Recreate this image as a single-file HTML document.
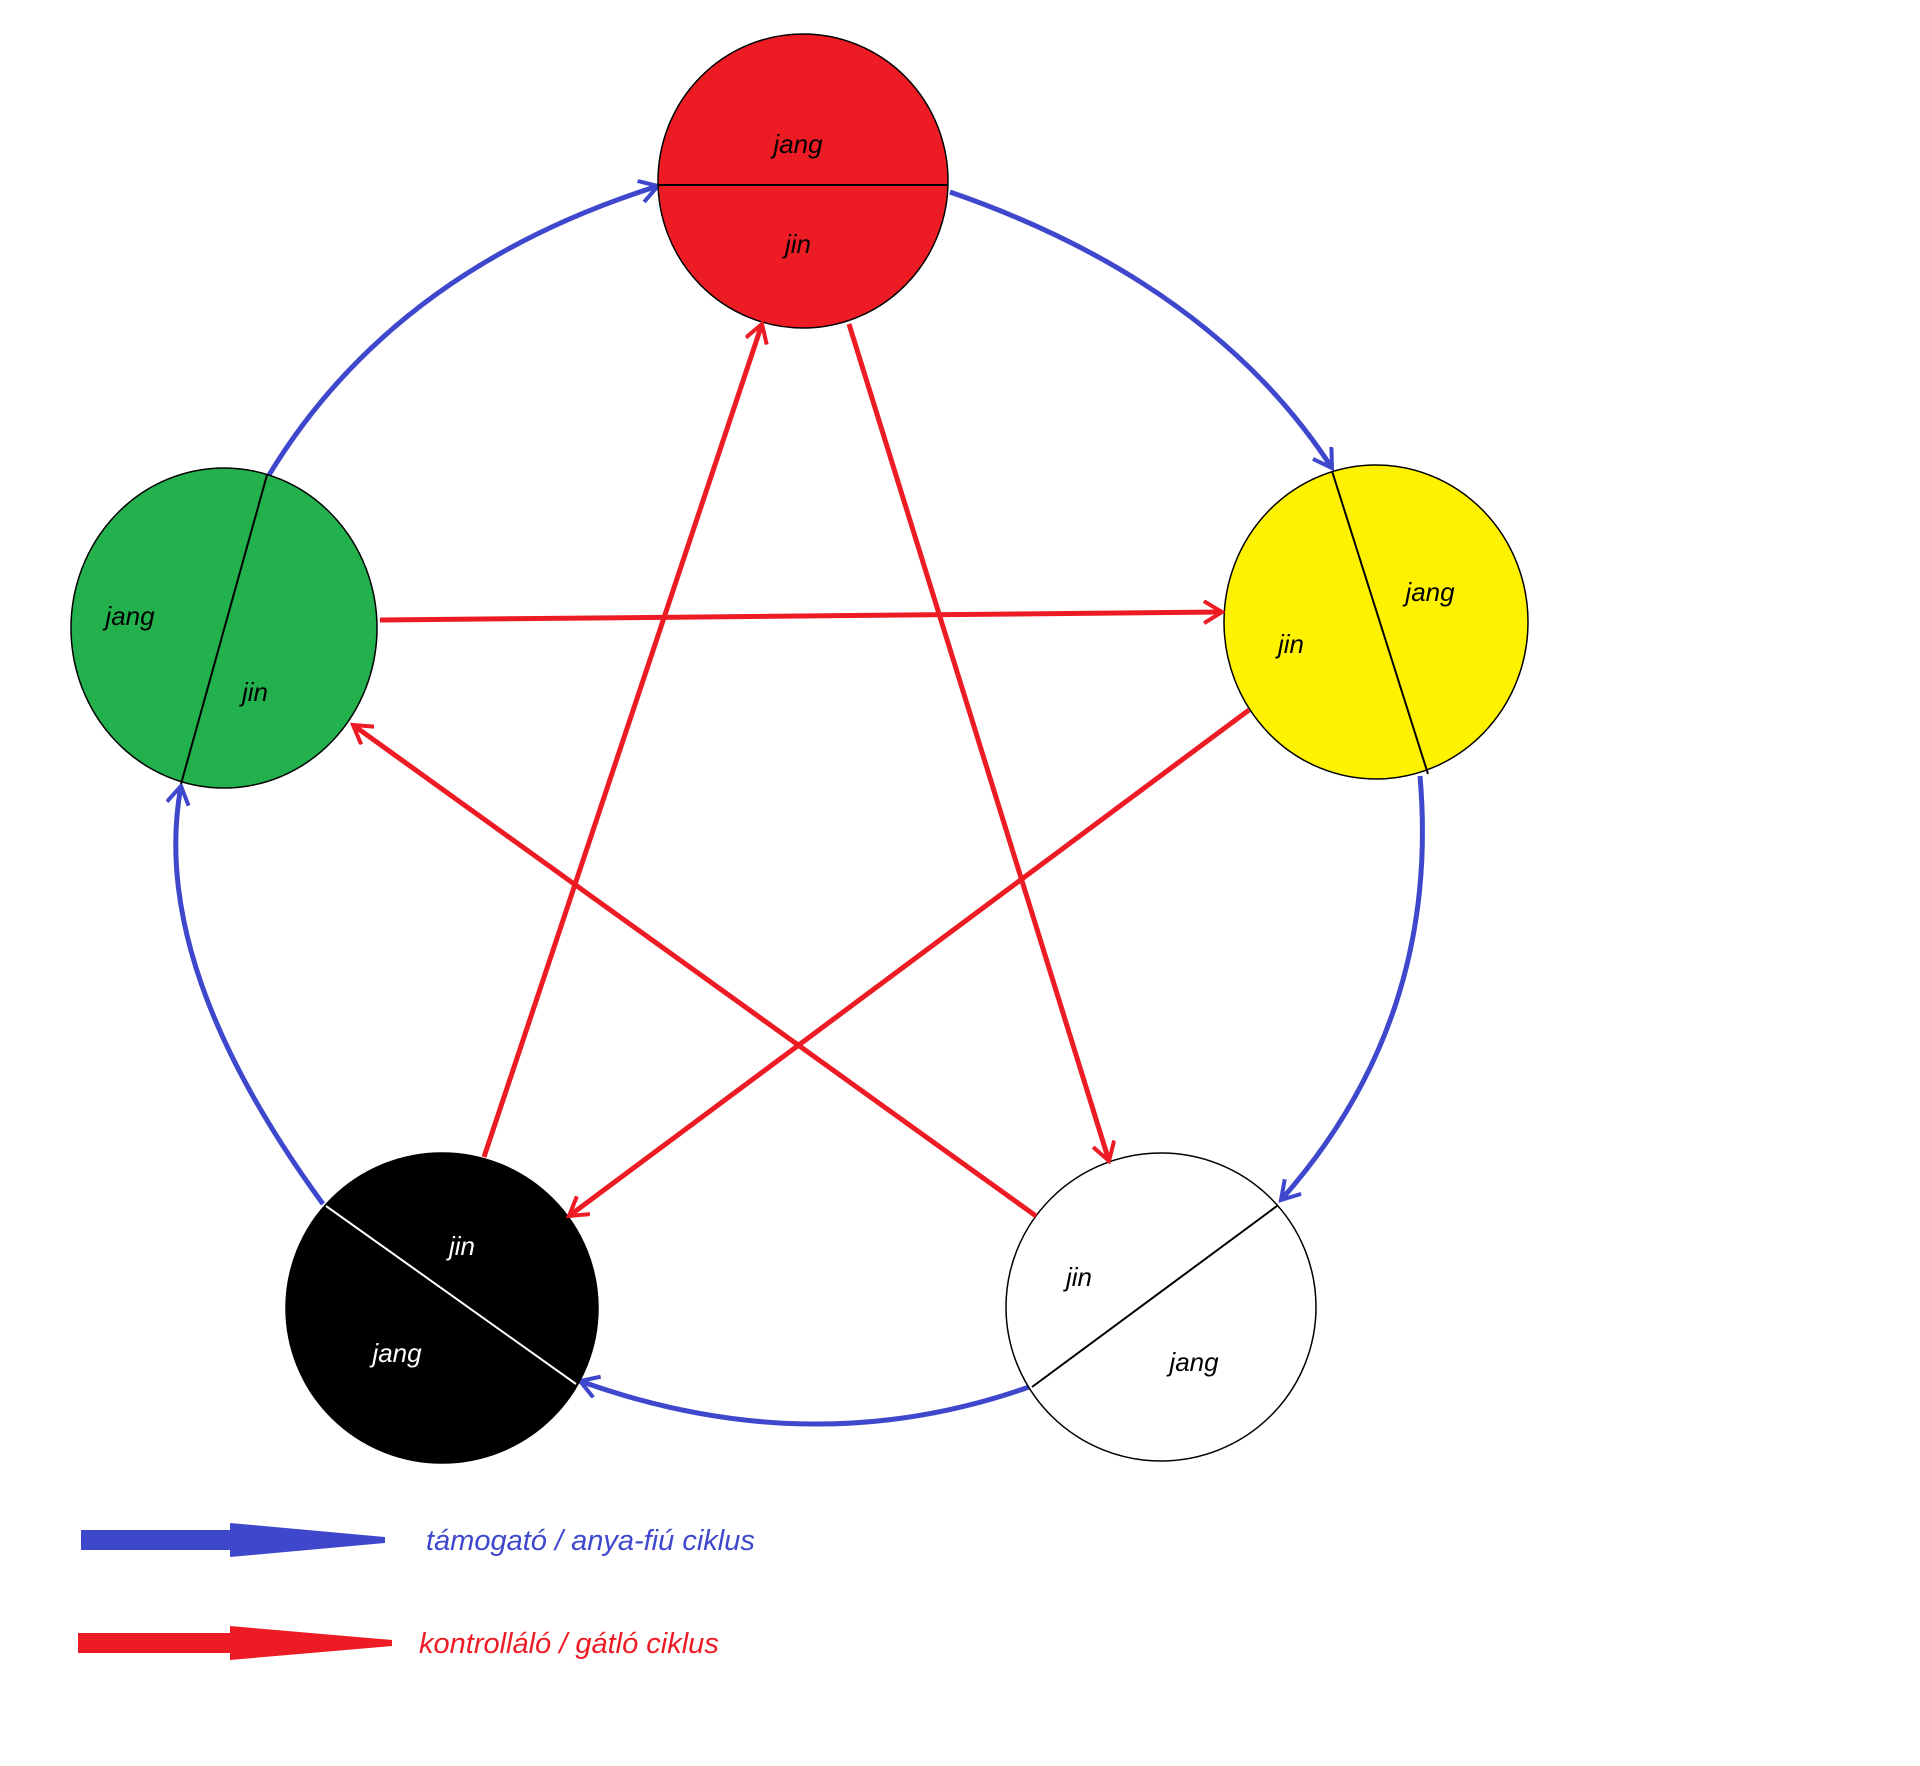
<!DOCTYPE html>
<html><head><meta charset="utf-8"><style>
html,body{margin:0;padding:0;background:#fff;}
svg{display:block}
text{font-family:"Liberation Sans",sans-serif;font-style:italic;}
</style></head><body>
<svg width="1920" height="1766" viewBox="0 0 1920 1766" xmlns="http://www.w3.org/2000/svg">
<defs>
<marker id="ab" markerWidth="30" markerHeight="30" refX="20" refY="12" orient="auto" markerUnits="userSpaceOnUse">
<polyline points="2,1 20,12 2,23" fill="none" stroke="#3f48cc" stroke-width="4"/>
</marker>
<marker id="ar" markerWidth="30" markerHeight="30" refX="20" refY="12" orient="auto" markerUnits="userSpaceOnUse">
<polyline points="2,1 20,12 2,23" fill="none" stroke="#ed1c24" stroke-width="4"/>
</marker>
</defs>

<g fill="none" stroke="#3f48cc" stroke-width="5">
<path d="M950,192 Q1211,282 1332,468" marker-end="url(#ab)"/>
<path d="M1420,776 Q1441,1020 1281,1200" marker-end="url(#ab)"/>
<path d="M1029,1387 Q811,1464 580,1381" marker-end="url(#ab)"/>
<path d="M323,1204 Q148,965 181,786" marker-end="url(#ab)"/>
<path d="M269,475 Q394,269 658,186" marker-end="url(#ab)"/>
</g>

<ellipse cx="803" cy="181" rx="145" ry="147" fill="#ed1c24" stroke="#000" stroke-width="1.5"/>
<line x1="658" y1="185" x2="948" y2="185" stroke="#000" stroke-width="2"/>
<ellipse cx="1376" cy="622" rx="152" ry="157" fill="#fff200" stroke="#000" stroke-width="1.5"/>
<line x1="1332" y1="471" x2="1428" y2="774" stroke="#000" stroke-width="2"/>
<ellipse cx="224" cy="628" rx="153" ry="160" fill="#22b14c" stroke="#000" stroke-width="1.5"/>
<line x1="267" y1="475" x2="181" y2="784" stroke="#000" stroke-width="2"/>
<ellipse cx="442" cy="1308" rx="156" ry="155" fill="#000" stroke="#000" stroke-width="1.5"/>
<line x1="326" y1="1206" x2="576" y2="1384" stroke="#fff" stroke-width="2"/>
<ellipse cx="1161" cy="1307" rx="155" ry="154" fill="#fff" stroke="#000" stroke-width="1.5"/>
<line x1="1032" y1="1387" x2="1277" y2="1206" stroke="#000" stroke-width="2"/>

<g stroke="#ed1c24" stroke-width="5" fill="none">
<line x1="380" y1="620" x2="1222" y2="612" marker-end="url(#ar)"/>
<line x1="1249" y1="710" x2="569" y2="1216" marker-end="url(#ar)"/>
<line x1="484" y1="1157" x2="762" y2="324" marker-end="url(#ar)"/>
<line x1="849" y1="324" x2="1109" y2="1161" marker-end="url(#ar)"/>
<line x1="1036" y1="1216" x2="353" y2="725" marker-end="url(#ar)"/>
</g>

<g font-size="26" text-anchor="middle" fill="#000">
<text x="798" y="153">jang</text>
<text x="798" y="253">jin</text>
<text x="1430" y="601">jang</text>
<text x="1291" y="653">jin</text>
<text x="130" y="625">jang</text>
<text x="255" y="701">jin</text>
<text x="462" y="1255" fill="#fff">jin</text>
<text x="397" y="1362" fill="#fff">jang</text>
<text x="1079" y="1286">jin</text>
<text x="1194" y="1371">jang</text>
</g>

<polygon points="81,1530 230,1530 230,1523 385,1537 385,1543 230,1557 230,1550 81,1550" fill="#3f48cc"/>
<text x="426" y="1550" font-size="29" fill="#3f48cc">támogató / anya-fiú ciklus</text>
<polygon points="78,1633 230,1633 230,1626 392,1640 392,1646 230,1660 230,1653 78,1653" fill="#ed1c24"/>
<text x="419" y="1653" font-size="29" fill="#ed1c24">kontrolláló / gátló ciklus</text>
</svg>
</body></html>
